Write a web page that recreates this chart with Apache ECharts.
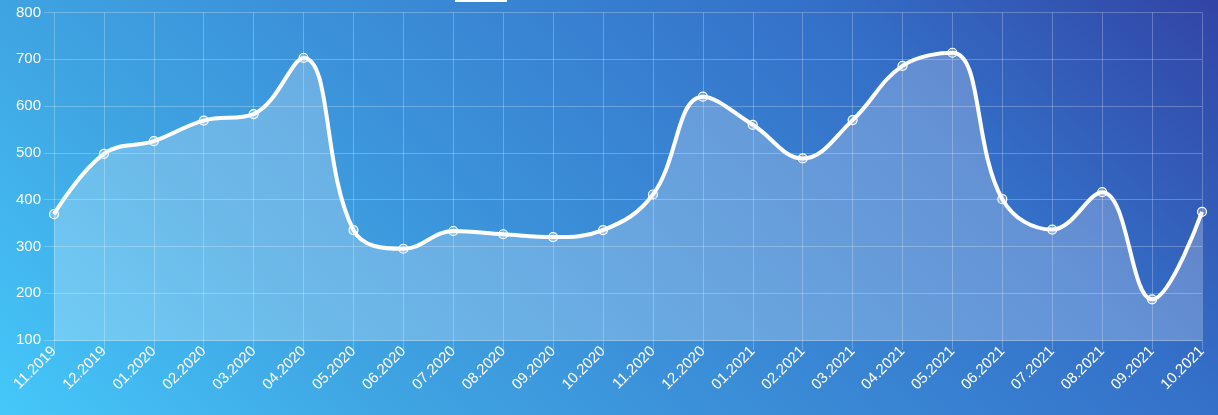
<!DOCTYPE html>
<html>
<head>
<meta charset="utf-8">
<script src="https://cdn.jsdelivr.net/npm/echarts@6/dist/echarts.min.js"></script>
<style>
html,body{margin:0;padding:0;}
body{width:1218px;height:415px;overflow:hidden;background:linear-gradient(45deg,#45c8fa 0%,#3fa4e2 25%,#3a8ad6 50%,#3470c8 75%,#3244a5 100%);}
#chart{width:1218px;height:415px;}
</style>
</head>
<body>
<div id="chart"></div>
<script>
const categories = ['11.2019','12.2019','01.2020','02.2020','03.2020','04.2020','05.2020','06.2020','07.2020','08.2020','09.2020','10.2020','11.2020','12.2020','01.2021','02.2021','03.2021','04.2021','05.2021','06.2021','07.2021','08.2021','09.2021','10.2021'];
const values = [369,498,525,569,583,703,335,295,333,326,320,335,411,620,560,488,570,686,714,401,336,416,187,374];
const yMin = 100, yMax = 800, yStep = 100;

const gridColor = 'rgba(255,255,255,0.25)';
const chart = echarts.init(document.getElementById('chart'), null, {renderer:'canvas'});
chart.setOption({
  backgroundColor: 'transparent',
  animation: false,
  grid: {left: 54, right: 16, top: 12.5, bottom: 75, containLabel: false},
  graphic: [{type:'rect', left: 455, top: 0, shape:{width:52, height:2}, style:{fill:'#fff'}}],
  xAxis: {
    type: 'category', data: categories, boundaryGap: false,
    axisLine: {show: true, lineStyle: {color: gridColor, width: 1}},
    axisTick: {show: true, length: 10, alignWithLabel: true, lineStyle: {color: gridColor}},
    splitLine: {show: true, lineStyle: {color: gridColor, width: 1}},
    axisLabel: {color: '#fff', fontSize: 15, fontFamily: 'Liberation Sans, Arial, sans-serif', rotate: 45, margin: 9, interval: 0}
  },
  yAxis: {
    type: 'value', min: yMin, max: yMax, interval: yStep,
    axisLine: {show: false},
    axisTick: {show: true, length: 10, lineStyle: {color: gridColor}},
    splitLine: {show: true, lineStyle: {color: gridColor, width: 1}},
    axisLabel: {color: '#fff', fontSize: 15, fontFamily: 'Liberation Sans, Arial, sans-serif', margin: 13}
  },
  series: [{
    type: 'line', data: values, smooth: 0.4,
    symbol: 'circle', symbolSize: 9,
    lineStyle: {color: '#fff', width: 4},
    itemStyle: {color: 'rgba(255,255,255,0.25)', borderColor: '#fff', borderWidth: 1.2},
    areaStyle: {color: 'rgba(255,255,255,0.34)', origin: 'start'}
  }]
});
</script>
</body>
</html>
